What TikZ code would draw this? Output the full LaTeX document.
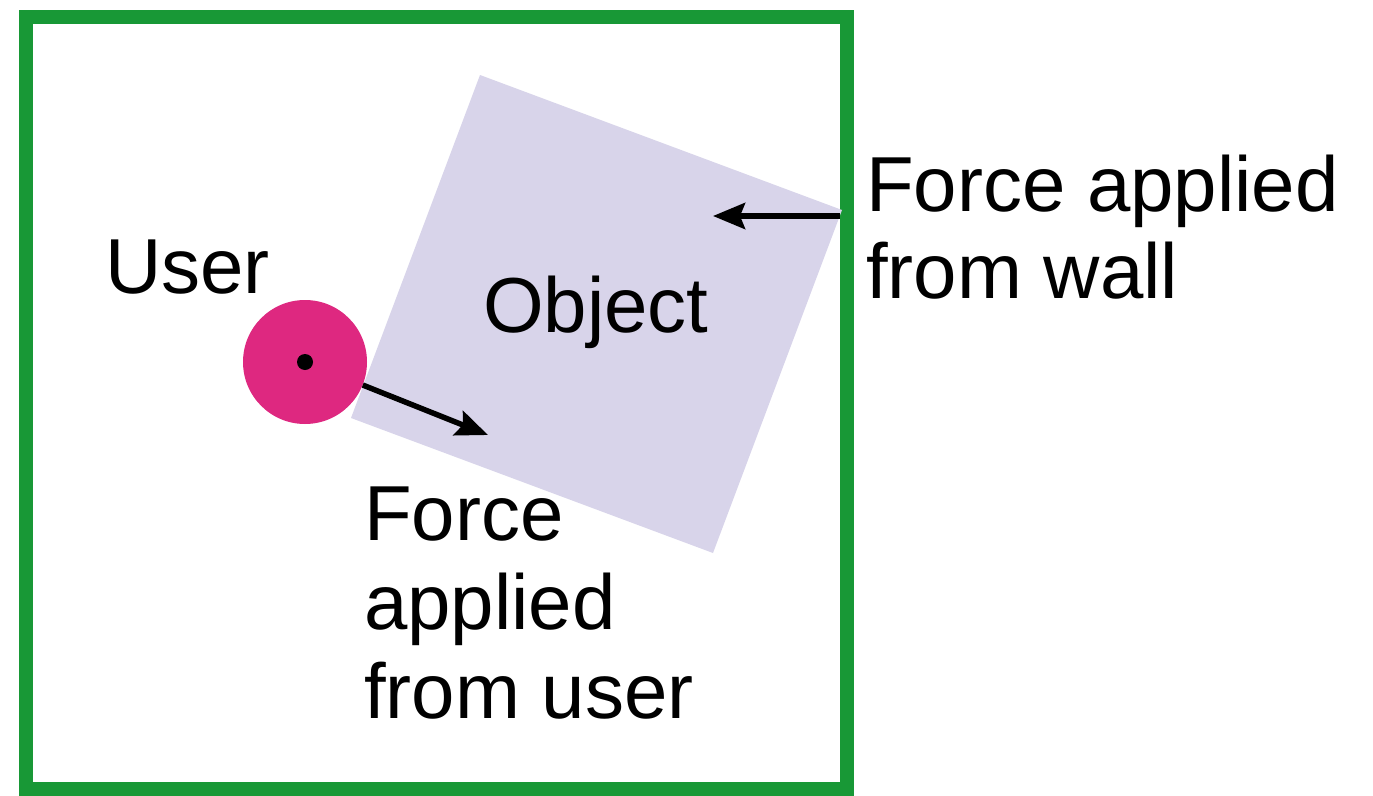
\documentclass[tikz,border=0pt]{standalone}
\usepackage{fontspec}
\setmainfont{Liberation Sans}
\usetikzlibrary{arrows.meta}
\definecolor{wallgreen}{RGB}{24,152,54}
\definecolor{objlav}{RGB}{216,212,234}
\definecolor{userpink}{RGB}{222,40,128}
\tikzset{
  force/.style={line width=5.5pt, -{Stealth[length=32pt,width=26pt,inset=5pt]}},
  lbl/.style={inner sep=0pt, anchor=base west, align=left, font=\fontsize{78}{87}\selectfont},
}
\begin{document}
\begin{tikzpicture}[x=1pt,y=-1pt]
\useasboundingbox (0,0) rectangle (1373,795);
\fill[white] (0,0) rectangle (1373,795);
% wall
\draw[wallgreen, line width=14pt] (26,17) rectangle (847,789);
% object
\fill[objlav] (480,75) -- (842,210) -- (713,553) -- (351,418) -- cycle;
\node[lbl] (objlabel) at (483,332) {Object};
% user
\node[circle, fill=userpink, minimum size=124pt, inner sep=0pt] (user) at (305,362) {};
\node[circle, fill=black, minimum size=16pt, inner sep=0pt] (dot) at (user.center) {};
\node[lbl] (userlabel) at (105,293) {User};
% forces
\coordinate (utip) at (488,435);
\draw[force] (user) -- (utip);
\coordinate (wallpt) at (840,216);
\coordinate (wtip) at (713,216);
\draw[force] (wallpt) -- (wtip);
\node[lbl] (walllabel) at (866,298) {Force applied\\from wall};
\node[lbl, font=\fontsize{78}{89}\selectfont] (userforce) at (364,718) {Force\\applied\\from user};
\end{tikzpicture}
\end{document}
